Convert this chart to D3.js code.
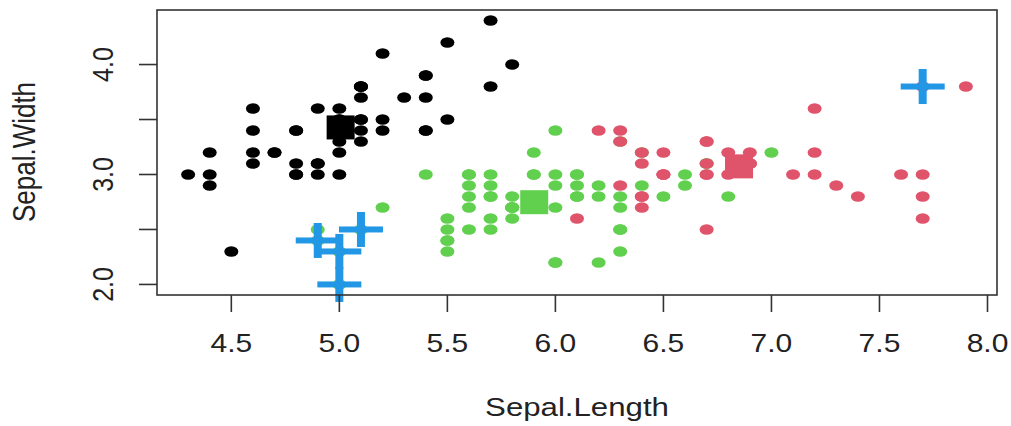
<!DOCTYPE html>
<html>
<head>
<meta charset="utf-8">
<script src="https://cdn.jsdelivr.net/npm/d3@7"></script>
<style>
  html, body { margin: 0; padding: 0; background: #fff; }
  text { font-family: "Liberation Sans", Arial, sans-serif; fill: #222; }
</style>
</head>
<body>
<div id="chart"></div>
<script>
// iris Sepal.Length / Sepal.Width, split by k-means cluster
const cluster1 = [ // black
  [5.1,3.5],[4.9,3.0],[4.7,3.2],[4.6,3.1],[5.0,3.6],[5.4,3.9],[4.6,3.4],[5.0,3.4],[4.4,2.9],[4.9,3.1],
  [5.4,3.7],[4.8,3.4],[4.8,3.0],[4.3,3.0],[5.8,4.0],[5.7,4.4],[5.4,3.9],[5.1,3.5],[5.7,3.8],[5.1,3.8],
  [5.4,3.4],[5.1,3.7],[4.6,3.6],[5.1,3.3],[4.8,3.4],[5.0,3.0],[5.0,3.4],[5.2,3.5],[5.2,3.4],[4.7,3.2],
  [4.8,3.1],[5.4,3.4],[5.2,4.1],[5.5,4.2],[4.9,3.1],[5.0,3.2],[5.5,3.5],[4.9,3.6],[4.4,3.0],[5.1,3.4],
  [5.0,3.5],[4.5,2.3],[4.4,3.2],[5.0,3.5],[5.1,3.8],[4.8,3.0],[5.1,3.8],[4.6,3.2],[5.3,3.7],[5.0,3.3]
];
const cluster3 = [ // green
  [7.0,3.2],[6.4,3.2],[5.5,2.3],[6.5,2.8],[5.7,2.8],[6.3,3.3],[4.9,2.4],[6.6,2.9],[5.2,2.7],[5.0,2.0],
  [5.9,3.0],[6.0,2.2],[6.1,2.9],[5.6,2.9],[6.7,3.1],[5.6,3.0],[5.8,2.7],[6.2,2.2],[5.6,2.5],[5.9,3.2],
  [6.1,2.8],[6.3,2.5],[6.1,2.8],[6.4,2.9],[6.6,3.0],[6.8,2.8],[6.0,2.9],[5.7,2.6],[5.5,2.4],[5.5,2.4],
  [5.8,2.7],[6.0,2.7],[5.4,3.0],[6.0,3.4],[6.7,3.1],[6.3,2.3],[5.6,3.0],[5.5,2.5],[5.5,2.6],[6.1,3.0],
  [5.8,2.6],[5.0,2.3],[5.6,2.7],[5.7,3.0],[5.7,2.9],[6.2,2.9],[5.1,2.5],[5.7,2.8],
  [5.8,2.7],[4.9,2.5],[5.7,2.5],[5.8,2.8],[6.0,2.2],[5.6,2.8],[6.3,2.7],[6.2,2.8],[6.1,3.0],[6.3,2.8],
  [6.0,3.0],[5.8,2.7],[6.3,2.5],[5.9,3.0]
];
const cluster2 = [ // red
  [6.9,3.1],[6.7,3.0],
  [6.3,3.3],[7.1,3.0],[6.3,2.9],[6.5,3.0],[7.6,3.0],[7.3,2.9],[6.7,2.5],[7.2,3.6],[6.5,3.2],[6.4,2.7],
  [6.8,3.0],[6.4,3.2],[6.5,3.0],[7.7,3.8],[7.7,2.6],[6.9,3.2],[7.7,2.8],[6.7,3.3],[7.2,3.2],[6.4,2.8],
  [7.2,3.0],[7.4,2.8],[7.9,3.8],[6.4,2.8],[6.1,2.6],[7.7,3.0],[6.3,3.4],[6.4,3.1],[6.9,3.1],[6.7,3.1],
  [6.9,3.1],[6.8,3.2],[6.7,3.3],[6.7,3.0],[6.5,3.0],[6.2,3.4]
];
const centers = [[5.006,3.428],[6.850,3.074],[5.902,2.748]];
const centerColors = ["#000000","#DF536B","#61D04F"];
const outliers = [[5.1,2.5],[4.9,2.4],[5.0,2.3],[5.0,2.0],[7.7,3.8]];

const xTicks = [4.5,5.0,5.5,6.0,6.5,7.0,7.5,8.0];
const yTicks = [2.0,2.5,3.0,3.5,4.0];
const yLabels = [2.0,3.0,4.0];

const W = 1011, H = 426;
const svg = d3.select("#chart").append("svg").attr("width", W).attr("height", H);

// plot region (R pads the data range by 4%)
const x = d3.scaleLinear().domain([4.156, 8.044]).range([157, 997]);
const y = d3.scaleLinear().domain([1.904, 4.496]).range([295, 10]);
const sx = 1.2; // the picture is stretched horizontally

// points
const groups = [[cluster1, "#000000"], [cluster3, "#61D04F"], [cluster2, "#DF536B"]];
groups.forEach(([pts, col]) => {
  svg.append("g").selectAll("ellipse").data(pts).enter().append("ellipse")
    .attr("cx", d => x(d[0])).attr("cy", d => y(d[1]))
    .attr("rx", 7).attr("ry", 5.3)
    .attr("fill", col);
});

// cluster centres
svg.append("g").selectAll("rect").data(centers).enter().append("rect")
  .attr("x", d => x(d[0]) - 14).attr("y", d => y(d[1]) - 12)
  .attr("width", 28).attr("height", 24)
  .attr("fill", (d, i) => centerColors[i]);

// outliers as thick plus signs
const crosses = svg.append("g").attr("fill", "#2297E6");
outliers.forEach(d => {
  crosses.append("rect").attr("x", x(d[0]) - 22).attr("y", y(d[1]) - 3).attr("width", 44).attr("height", 6);
  crosses.append("rect").attr("x", x(d[0]) - 4).attr("y", y(d[1]) - 17.5).attr("width", 8).attr("height", 35);
});

// box
svg.append("rect")
  .attr("x", 157).attr("y", 10).attr("width", 840).attr("height", 285)
  .attr("fill", "none").attr("stroke", "#333").attr("stroke-width", 1.6);

// x axis ticks and labels
svg.append("g").selectAll("line").data(xTicks).enter().append("line")
  .attr("x1", d => x(d)).attr("x2", d => x(d)).attr("y1", 295).attr("y2", 312)
  .attr("stroke", "#333").attr("stroke-width", 1.6);
svg.append("g").selectAll("text").data(xTicks).enter().append("text")
  .attr("transform", d => `translate(${x(d)},352) scale(${sx},1)`)
  .attr("text-anchor", "middle").style("font-size", "25px")
  .text(d => d3.format(".1f")(d));

// y axis ticks and labels
svg.append("g").selectAll("line").data(yTicks).enter().append("line")
  .attr("x1", 139).attr("x2", 157).attr("y1", d => y(d)).attr("y2", d => y(d))
  .attr("stroke", "#333").attr("stroke-width", 1.6);
svg.append("g").selectAll("text").data(yLabels).enter().append("text")
  .attr("transform", d => `translate(113,${y(d)}) scale(${sx},1) rotate(-90)`)
  .attr("text-anchor", "middle").style("font-size", "25px")
  .text(d => d3.format(".1f")(d));

// axis titles
svg.append("text")
  .attr("transform", `translate(577,416) scale(${sx},1)`)
  .attr("text-anchor", "middle").style("font-size", "26px")
  .text("Sepal.Length");
svg.append("text")
  .attr("transform", `translate(35,152) scale(${sx},1) rotate(-90)`)
  .attr("text-anchor", "middle").style("font-size", "26px")
  .text("Sepal.Width");
</script>
</body>
</html>
